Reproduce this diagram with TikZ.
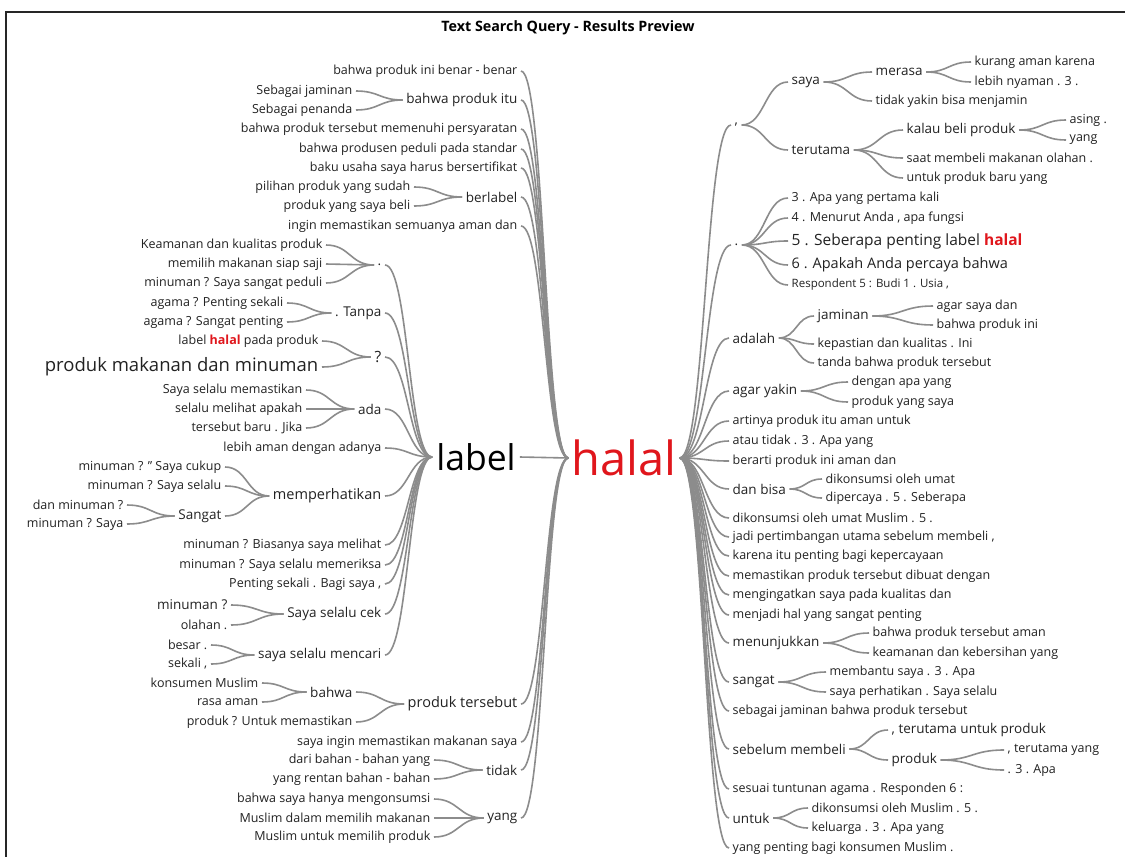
\documentclass[tikz,border=0pt]{standalone}
\usepackage{fontspec}
\setmainfont{Open Sans}
\usetikzlibrary{calc}
\definecolor{txt}{HTML}{222222}
\definecolor{lnk}{HTML}{8C8C8C}
\definecolor{hred}{HTML}{E0161C}
\newcommand\wlink[2]{\draw[conn] let \p1=(#1.east), \p2=(#2.west) in (\p1) .. controls ({(\x1+\x2)/2},\y1) and ({(\x1+\x2)/2},\y2) .. (\p2);}
\newcommand\hl{\textcolor{hred}{\bfseries halal}}
\tikzset{
  conn/.style={draw=lnk, line width=1.6pt},
  w/.style={inner xsep=3.5pt, inner ysep=1pt, text=txt, font=\fontsize{12.5}{14}\selectfont},
  ws/.style={w, font=\fontsize{11.5}{13}\selectfont},
  wm/.style={w, font=\fontsize{13.5}{15}\selectfont},
  wn/.style={w, font=\fontsize{14.5}{16}\selectfont},
  wl/.style={w, font=\fontsize{15.5}{17}\selectfont},
  wx/.style={w, font=\fontsize{18.5}{20}\selectfont},
  L/.style={anchor=east},
  R/.style={anchor=west}
}
\begin{document}
\begin{tikzpicture}[x=1pt,y=-1pt]
\useasboundingbox (0,0) rectangle (1125,857);
\fill[white] (0,0) rectangle (1125,857);
\draw[black!85, line width=1.5pt] (6,857) -- (6,12) -- (1125,12);
\node[font=\bfseries\fontsize{14.3}{16}\selectfont, text=black] (title) at (568,28) {Text Search Query - Results Preview};

% roots
\node[w, font=\fontsize{47}{50}\selectfont, text=hred, inner xsep=3pt] (halal) at (624,458) {halal};
\node[w, font=\fontsize{35.5}{38}\selectfont, text=black, inner xsep=4pt] (label) at (476,457) {label};
\wlink{label}{halal}

% ---- left of halal (top)
\node[w,L] (L1) at (521,71) {bahwa produk ini benar - benar};
\node[wm,L] (L2) at (521,100) {bahwa produk itu};
\node[w,L] (L2a) at (356,91) {Sebagai jaminan};
\node[w,L] (L2b) at (356,110) {Sebagai penanda};
\node[w,L] (L3) at (521,129) {bahwa produk tersebut memenuhi persyaratan};
\node[w,L] (L4) at (521,149) {bahwa produsen peduli pada standar};
\node[w,L] (L5) at (521,168) {baku usaha saya harus bersertifikat};
\node[wm,L] (L6) at (521,197) {berlabel};
\node[w,L] (L6a) at (414,187) {pilihan produk yang sudah};
\node[w,L] (L6b) at (414,206) {produk yang saya beli};
\node[w,L] (L7) at (521,226) {ingin memastikan semuanya aman dan};
\foreach \nm in {L1,L2,L3,L4,L5,L6,L7} {\wlink{\nm}{halal}}
\wlink{L2a}{L2}\wlink{L2b}{L2}
\wlink{L6a}{L6}\wlink{L6b}{L6}

% ---- left of halal (bottom)
\node[wn,L] (B1) at (521,704) {produk tersebut};
\node[wm,L] (B1a) at (356,692) {bahwa};
\node[w,L] (B1a1) at (262,683) {konsumen Muslim};
\node[w,L] (B1a2) at (262,702) {rasa aman};
\node[w,L] (B1b) at (356,722) {produk ? Untuk memastikan};
\node[w,L] (B2) at (521,742) {saya ingin memastikan makanan saya};
\node[wm,L] (B3) at (521,770) {tidak};
\node[w,L] (B3a) at (434,760) {dari bahan - bahan yang};
\node[w,L] (B3b) at (434,779) {yang rentan bahan - bahan};
\node[wm,L] (B4) at (521,818) {yang};
\node[w,L] (B4a) at (434,799) {bahwa saya hanya mengonsumsi};
\node[w,L] (B4b) at (434,818) {Muslim dalam memilih makanan};
\node[w,L] (B4c) at (434,837) {Muslim untuk memilih produk};
\foreach \nm in {B1,B2,B3,B4} {\wlink{\nm}{halal}}
\wlink{B1a}{B1}\wlink{B1b}{B1}
\wlink{B1a1}{B1a}\wlink{B1a2}{B1a}
\wlink{B3a}{B3}\wlink{B3b}{B3}
\wlink{B4a}{B4}\wlink{B4b}{B4}\wlink{B4c}{B4}

% ---- left of label
\node[wm,L] (M1) at (385,265) {.};
\node[w,L] (M1a) at (326,245) {Keamanan dan kualitas produk};
\node[w,L] (M1b) at (326,264) {memilih makanan siap saji};
\node[w,L] (M1c) at (326,283) {minuman ? Saya sangat peduli};
\node[wm,L] (M2) at (385,313) {. Tanpa};
\node[w,L] (M2a) at (287,303) {agama ? Penting sekali};
\node[w,L] (M2b) at (287,322) {agama ? Sangat penting};
\node[wl,L] (M3) at (385,357) {?};
\node[w,L] (M3a) at (322,341) {label \hl{} pada produk};
\node[wx,L] (M3b) at (322,367) {produk makanan dan minuman};
\node[wm,L] (M4) at (385,409) {ada};
\node[w,L] (M4a) at (306,390) {Saya selalu memastikan};
\node[w,L] (M4b) at (306,409) {selalu melihat apakah};
\node[w,L] (M4c) at (306,428) {tersebut baru . Jika};
\node[w,L] (M5) at (385,448) {lebih aman dengan adanya};
\node[wn,L] (M6) at (385,496) {memperhatikan};
\node[w,L] (M6a) at (225,467) {minuman ? " Saya cukup};
\node[w,L] (M6b) at (225,486) {minuman ? Saya selalu};
\node[wm,L] (M6c) at (225,516) {Sangat};
\node[w,L] (M6c1) at (127,505) {dan minuman ?};
\node[w,L] (M6c2) at (127,524) {minuman ? Saya};
\node[w,L] (M7) at (385,545) {minuman ? Biasanya saya melihat};
\node[w,L] (M8) at (385,565) {minuman ? Saya selalu memeriksa};
\node[w,L] (M9) at (385,584) {Penting sekali . Bagi saya ,};
\node[wm,L] (M10) at (385,614) {Saya selalu cek};
\node[wm,L] (M10a) at (231,605) {minuman ?};
\node[w,L] (M10b) at (231,625) {olahan .};
\node[wm,L] (M11) at (385,655) {saya selalu mencari};
\node[w,L] (M11a) at (211,645) {besar .};
\node[w,L] (M11b) at (211,664) {sekali ,};
\foreach \nm in {M1,M2,M3,M4,M5,M6,M7,M8,M9,M10,M11} {\wlink{\nm}{label}}
\wlink{M1a}{M1}\wlink{M1b}{M1}\wlink{M1c}{M1}
\wlink{M2a}{M2}\wlink{M2b}{M2}
\wlink{M3a}{M3}\wlink{M3b}{M3}
\wlink{M4a}{M4}\wlink{M4b}{M4}\wlink{M4c}{M4}
\wlink{M6a}{M6}\wlink{M6b}{M6}\wlink{M6c}{M6}
\wlink{M6c1}{M6c}\wlink{M6c2}{M6c}
\wlink{M10a}{M10}\wlink{M10b}{M10}
\wlink{M11a}{M11}\wlink{M11b}{M11}

% ---- right of halal
\node[wm,R] (R1) at (731,125) {,};
\node[wm,R] (R1a) at (788,82) {saya};
\node[wm,R] (R1a1) at (872,72) {merasa};
\node[w,R] (R1a1a) at (971,62) {kurang aman karena};
\node[w,R] (R1a1b) at (971,82) {lebih nyaman . 3 .};
\node[w,R] (R1a2) at (872,101) {tidak yakin bisa menjamin};
\node[wm,R] (R1b) at (788,150) {terutama};
\node[wm,R] (R1b1) at (903,130) {kalau beli produk};
\node[w,R] (R1b1a) at (1066,120) {asing .};
\node[w,R] (R1b1b) at (1066,140) {yang};
\node[w,R] (R1b2) at (903,158) {saat membeli makanan olahan .};
\node[w,R] (R1b3) at (903,178) {untuk produk baru yang};
\wlink{R1}{R1a}\wlink{R1}{R1b}
\wlink{R1a}{R1a1}\wlink{R1a}{R1a2}
\wlink{R1a1}{R1a1a}\wlink{R1a1}{R1a1b}
\wlink{R1b}{R1b1}\wlink{R1b}{R1b2}\wlink{R1b}{R1b3}
\wlink{R1b1}{R1b1a}\wlink{R1b1}{R1b1b}

\node[wm,R] (R2) at (731,245) {.};
\node[w,R] (R2a) at (788,198) {3 . Apa yang pertama kali};
\node[w,R] (R2b) at (788,218) {4 . Menurut Anda , apa fungsi};
\node[wl,R] (R2c) at (788,241) {5 . Seberapa penting label \hl};
\node[wn,R] (R2d) at (788,265) {6 . Apakah Anda percaya bahwa};
\node[ws,R] (R2e) at (788,285) {Respondent 5 : Budi 1 . Usia ,};
\foreach \nm in {R2a,R2b,R2c,R2d,R2e} {\wlink{R2}{\nm}}

\node[wm,R] (R3) at (729,338) {adalah};
\node[wm,R] (R3a) at (814,316) {jaminan};
\node[w,R] (R3a1) at (933,306) {agar saya dan};
\node[w,R] (R3a2) at (933,325) {bahwa produk ini};
\node[w,R] (R3b) at (814,344) {kepastian dan kualitas . Ini};
\node[w,R] (R3c) at (814,363) {tanda bahwa produk tersebut};
\wlink{R3}{R3a}\wlink{R3}{R3b}\wlink{R3}{R3c}
\wlink{R3a}{R3a1}\wlink{R3a}{R3a2}

\node[wm,R] (R4) at (729,391) {agar yakin};
\node[w,R] (R4a) at (848,382) {dengan apa yang};
\node[w,R] (R4b) at (848,402) {produk yang saya};
\wlink{R4}{R4a}\wlink{R4}{R4b}

\node[w,R] (R5) at (729,421) {artinya produk itu aman untuk};
\node[w,R] (R6) at (729,441) {atau tidak . 3 . Apa yang};
\node[w,R] (R7) at (729,461) {berarti produk ini aman dan};
\node[wm,R] (R8) at (729,489) {dan bisa};
\node[w,R] (R8a) at (822,479) {dikonsumsi oleh umat};
\node[w,R] (R8b) at (822,498) {dipercaya . 5 . Seberapa};
\wlink{R8}{R8a}\wlink{R8}{R8b}
\node[w,R] (R9) at (729,518) {dikonsumsi oleh umat Muslim . 5 .};
\node[w,R] (R10) at (729,537) {jadi pertimbangan utama sebelum membeli ,};
\node[w,R] (R11) at (729,556) {karena itu penting bagi kepercayaan};
\node[w,R] (R12) at (729,576) {memastikan produk tersebut dibuat dengan};
\node[w,R] (R13) at (729,595) {mengingatkan saya pada kualitas dan};
\node[w,R] (R14) at (729,615) {menjadi hal yang sangat penting};
\node[wm,R] (R15) at (729,643) {menunjukkan};
\node[w,R] (R15a) at (869,633) {bahwa produk tersebut aman};
\node[w,R] (R15b) at (869,653) {keamanan dan kebersihan yang};
\wlink{R15}{R15a}\wlink{R15}{R15b}
\node[wm,R] (R16) at (729,682) {sangat};
\node[w,R] (R16a) at (826,672) {membantu saya . 3 . Apa};
\node[w,R] (R16b) at (826,692) {saya perhatikan . Saya selalu};
\wlink{R16}{R16a}\wlink{R16}{R16b}
\node[w,R] (R17) at (729,711) {sebagai jaminan bahwa produk tersebut};
\node[wm,R] (R18) at (729,749) {sebelum membeli};
\node[wm,R] (R18a) at (888,730) {, terutama untuk produk};
\node[wm,R] (R18b) at (888,760) {produk};
\node[w,R] (R18b1) at (1004,750) {, terutama yang};
\node[w,R] (R18b2) at (1004,770) {. 3 . Apa};
\wlink{R18}{R18a}\wlink{R18}{R18b}
\wlink{R18b}{R18b1}\wlink{R18b}{R18b2}
\node[w,R] (R19) at (729,789) {sesuai tuntunan agama . Responden 6 :};
\node[wm,R] (R20) at (729,818) {untuk};
\node[w,R] (R20a) at (808,808) {dikonsumsi oleh Muslim . 5 .};
\node[w,R] (R20b) at (808,828) {keluarga . 3 . Apa yang};
\wlink{R20}{R20a}\wlink{R20}{R20b}
\node[w,R] (R21) at (729,848) {yang penting bagi konsumen Muslim .};
\foreach \nm in {R1,R2,R3,R4,R5,R6,R7,R8,R9,R10,R11,R12,R13,R14,R15,R16,R17,R18,R19,R20,R21} {\wlink{halal}{\nm}}
\end{tikzpicture}
\end{document}
